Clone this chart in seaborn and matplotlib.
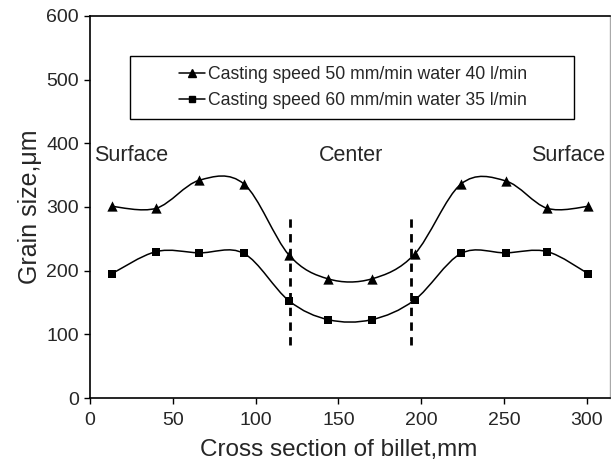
import numpy as np
import pandas as pd
import seaborn as sns
import matplotlib.pyplot as plt
from matplotlib.path import Path
from matplotlib.patches import PathPatch, Rectangle
from matplotlib.lines import Line2D

# Data --------------------------------------------------------------------------
position = [13, 40, 66, 93, 120, 144, 170, 196, 224, 251, 276, 301]
grain_50 = [301, 298, 342, 336, 225, 187, 187, 226, 336, 341, 298, 301]
grain_60 = [195, 230, 228, 227, 153, 123, 123, 154, 227, 228, 230, 195]
label_50 = 'Casting speed 50 mm/min water 40 l/min'
label_60 = 'Casting speed 60 mm/min water 35 l/min'
divider_x = [121, 194]
divider_y = [83, 283]


def smooth_path(x, y):
    """Excel-like smoothed line: cubic Bezier through every point."""
    p = np.column_stack([x, y]).astype(float)
    ext = np.vstack([p[0], p, p[-1]])
    verts = [p[0]]
    codes = [Path.MOVETO]
    for i in range(len(p) - 1):
        c1 = ext[i + 1] + (ext[i + 2] - ext[i]) / 6.0
        c2 = ext[i + 2] - (ext[i + 3] - ext[i + 1]) / 6.0
        verts += [c1, c2, p[i + 1]]
        codes += [Path.CURVE4] * 3
    return Path(verts, codes)


df = pd.DataFrame({'x': position, 'g50': grain_50, 'g60': grain_60})

sns.set_theme(style='ticks')
plt.rcParams['font.family'] = ['Liberation Sans', 'DejaVu Sans']

fig = plt.figure(figsize=(6.11, 4.66), dpi=100)
ax = fig.add_axes([0.1473, 0.1459, 0.8511, 0.8198])

for col in ['g50', 'g60']:
    ax.add_patch(PathPatch(smooth_path(df['x'], df[col]), fill=False,
                           edgecolor='black', lw=1.1, zorder=2))

sns.scatterplot(data=df, x='x', y='g50', marker='^', s=55, color='black',
                edgecolor='black', linewidth=0, ax=ax, zorder=3)
sns.scatterplot(data=df, x='x', y='g60', marker='s', s=40, color='black',
                edgecolor='black', linewidth=0, ax=ax, zorder=3)

for xv in divider_x:
    ax.plot([xv, xv], divider_y, color='black', lw=2, dashes=(3, 2.3), zorder=2)

ax.text(2.5, 381, 'Surface', fontsize=15.5, va='center', ha='left')
ax.text(157.5, 381, 'Center', fontsize=15.5, va='center', ha='center')
ax.text(311, 381, 'Surface', fontsize=15.5, va='center', ha='right')

# legend box
ax.add_patch(Rectangle((0.077, 0.730), 0.854, 0.165, transform=ax.transAxes,
                       facecolor='white', edgecolor='black', lw=1, zorder=4))
handles = [Line2D([], [], color='black', marker='^', markersize=5.5, lw=1.1),
           Line2D([], [], color='black', marker='s', markersize=5, lw=1.1)]
leg = ax.legend(handles, [label_50, label_60], loc='center',
                bbox_to_anchor=(0.506, 0.8125), frameon=False, fontsize=12.7,
                handlelength=1.45, handletextpad=0.15, labelspacing=0.52)
leg.set_zorder(5)

ax.set_xlim(0, 314)
ax.set_ylim(0, 600)
ax.set_xticks(range(0, 301, 50))
ax.set_yticks(range(0, 601, 100))
ax.set_xlabel('Cross section of billet,mm', fontsize=17.5, labelpad=7,
              x=150 / 314)
ax.set_ylabel('Grain size,\u03bcm', fontsize=18, labelpad=3)
ax.tick_params(axis='both', labelsize=14, direction='out', length=4,
               width=1, color='black', pad=4)
ax.tick_params(axis='x', pad=6)
for side in ['left', 'bottom', 'top']:
    ax.spines[side].set_color('black')
    ax.spines[side].set_linewidth(1.2)
ax.spines['right'].set_color('#aaaaaa')
ax.spines['right'].set_linewidth(1)

fig.savefig('out.png', dpi=100)
